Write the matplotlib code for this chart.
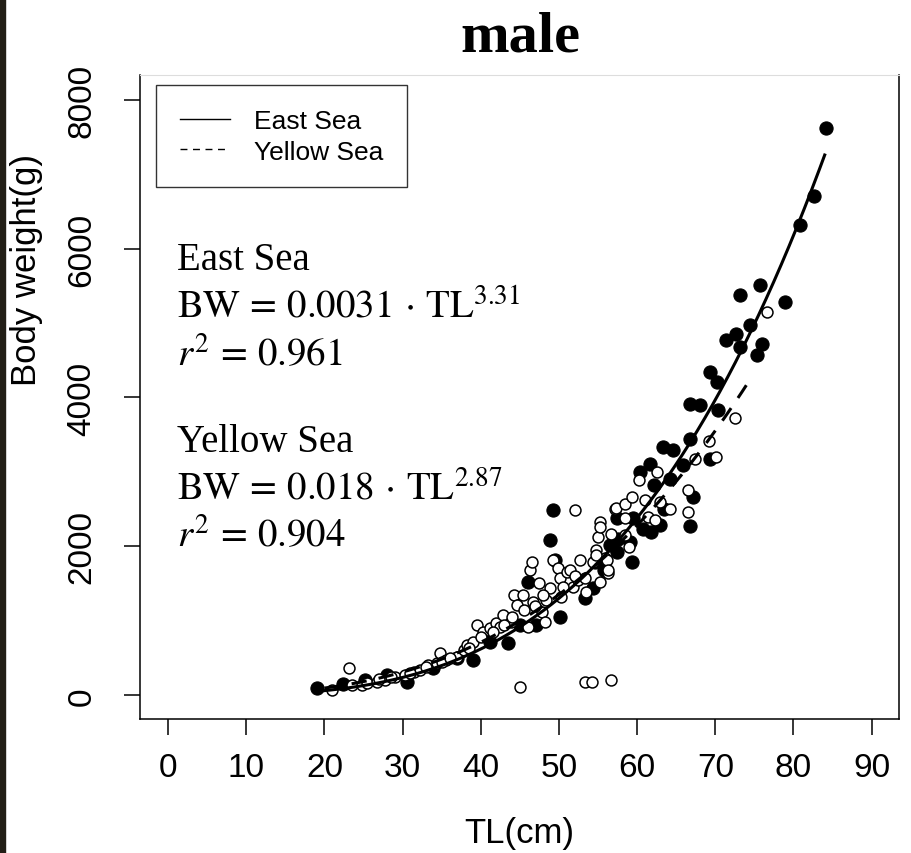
import matplotlib.pyplot as plt
from matplotlib.lines import Line2D
import numpy as np

plt.rcParams['font.family'] = ['Liberation Sans', 'DejaVu Sans']
plt.rcParams['mathtext.fontset'] = 'stix'

# East Sea (filled circles)
east_tl = [19.0, 22.4, 25.2, 28.0, 30.5, 33.9, 36.9, 39.0, 41.2, 43.5, 45.0, 46.1,
           47.1, 48.9, 49.3, 49.5, 50.1, 53.3, 54.4, 56.5, 57.4, 57.4,
           67.2, 59.5, 60.8, 62.9, 59.1, 57.6, 59.3, 54.6, 55.7, 61.8, 63.5, 66.8,
           84.2, 82.6, 80.8, 75.7, 73.1, 78.9, 74.4, 72.6, 71.4, 76.0, 73.2, 75.3,
           69.3, 70.2, 66.8, 68.0, 70.4, 66.8, 63.3, 64.6, 61.6, 60.4, 65.9, 69.3,
           62.1, 64.2]
east_bw = [103, 148, 206, 273, 183, 362, 497, 474, 720, 698, 944, 1525,
           944, 2084, 2486, 1816, 1055, 1301, 1436, 2017, 1928, 2375,
           2665, 2375, 2240, 2285, 2062, 2106, 1793, 1793, 1681, 2200, 2500, 2270,
           7615, 6712, 6310, 5505, 5370, 5281, 4968, 4856, 4767, 4722, 4677, 4566,
           4342, 4208, 3917, 3895, 3828, 3448, 3336, 3291, 3112, 3001, 3090, 3179,
           2822, 2911]

# Yellow Sea (open circles)
yellow_tl = [23.1, 21.0, 23.5, 24.8, 25.4, 26.7, 27.8, 29.0, 30.3, 31.4, 32.2, 33.3,
             34.4, 34.8, 35.6, 36.9, 37.8, 38.2, 39.0, 39.5, 40.3, 41.2, 42.0, 42.5,
             42.9, 43.9, 44.2, 44.6, 45.4, 46.1, 46.3, 46.5, 46.7, 47.4, 47.8, 48.2,
             48.4, 48.9, 49.3, 49.9, 50.1, 50.3, 51.0, 51.4, 51.8, 52.0, 52.5, 52.7,
             53.3, 53.5, 54.4, 54.8, 55.0, 55.2, 55.2, 55.9, 56.3, 56.7, 57.2,
             45.0, 53.3, 54.2, 56.7,
             57.3, 58.4, 59.4, 61.0, 62.9, 64.2, 66.5, 61.4, 58.4, 55.2, 58.4, 58.9,
             54.8, 56.1, 56.3, 62.3,
             76.6, 72.5, 69.2, 67.4, 70.1, 62.5, 60.3, 66.5,
             27.0, 28.5, 31.0, 33.0, 35.0, 36.0, 38.5, 40.0, 41.5, 43.0, 44.0, 45.5,
             47.0, 48.0, 50.5, 52.0]
yellow_bw = [371, 72, 139, 139, 161, 183, 206, 250, 273, 318, 340, 407,
             429, 564, 474, 519, 608, 675, 720, 944, 854, 899, 966, 921,
             1078, 988, 1346, 1212, 1346, 921, 1682, 1793, 1257, 1503, 1123, 988,
             1279, 1436, 1816, 1704, 1570, 1324, 1659, 1682, 1458, 2486, 1548, 1816,
             1570, 1391, 1793, 1950, 2129, 2330, 1525, 1838, 1637, 2173, 2509,
             116, 174, 174, 206,
             2518, 2576, 2665, 2621, 2598, 2509, 2464, 2397, 2375, 2263, 2151, 1994,
             1883, 1816, 1681, 2352,
             5147, 3725, 3412, 3179, 3202, 3000, 2889, 2755,
             215, 240, 300, 380, 450, 500, 640, 780, 850, 940, 1050, 1150,
             1200, 1350, 1450, 1600]

# fitted length-weight curves BW = a * TL^b
east_a, east_b, east_range = 0.0031, 3.31, (19, 84)
yellow_a, yellow_b, yellow_range = 0.018, 2.87, (20, 74.8)

fig = plt.figure(figsize=(9.12, 8.54), dpi=100)
ax = fig.add_axes([0.1535, 0.1569, 0.8322, 0.7541])

ax.scatter(east_tl, east_bw, s=90, c='black', edgecolors='black', linewidths=0.8, zorder=2)
ax.scatter(yellow_tl, yellow_bw, s=62, c='white', edgecolors='black', linewidths=1.1, zorder=3)

tl = np.linspace(*east_range, 200)
ax.plot(tl, east_a * tl ** east_b, color='black', lw=2.2, zorder=4)
tl = np.linspace(*yellow_range, 200)
ax.plot(tl, yellow_a * tl ** yellow_b, color='black', lw=2.2, ls=(0, (5, 4)), zorder=4)

ax.set_xlim(-3.6, 93.5)
ax.set_ylim(-318, 8331)
ax.set_xticks(range(0, 91, 10))
ax.set_yticks(range(0, 8001, 2000))
ax.tick_params(axis='both', direction='out', length=11.5, width=1.1, labelsize=24)
ax.tick_params(axis='x', pad=12)
ax.tick_params(axis='y', pad=19)
for lab in ax.get_yticklabels():
    lab.set_rotation(90)
    lab.set_va('center')
for side in ['left', 'bottom', 'right']:
    ax.spines[side].set_linewidth(1.1)
ax.spines['top'].set_color('#dddddd')
ax.spines['top'].set_linewidth(0.8)

ax.set_xlabel('TL(cm)', fontsize=25, labelpad=24)
ax.set_ylabel('Body weight(g)', fontsize=25)
ax.yaxis.set_label_coords(-0.128, 0.699)

fig.text(0.571, 1 - 52 / 854, 'male', ha='center', va='baseline',
         fontsize=42, fontweight='bold', family='Liberation Serif')

handles = [Line2D([], [], color='black', lw=1),
           Line2D([], [], color='black', lw=1, ls=(0, (5, 4)))]
leg = ax.legend(handles, ['East Sea', 'Yellow Sea'], loc='upper left',
                bbox_to_anchor=(0.021, 0.984), fontsize=19, frameon=True,
                fancybox=False, edgecolor='black', handlelength=1.9,
                borderpad=0.9, labelspacing=0.25, handletextpad=0.9, borderaxespad=0)
leg.get_frame().set_linewidth(1.0)

tx = 0.0487
kw = dict(transform=ax.transAxes, fontsize=28, va='baseline')
ax.text(tx, 0.699, 'East Sea', family='Liberation Serif', **kw)
ax.text(tx, 0.624, r'$\mathrm{BW}\,=\,0.0031\,\cdot\,\mathrm{TL}^{3.31}$', **kw)
ax.text(tx, 0.550, r'$r^2\,=\,0.961$', **kw)
ax.text(tx, 0.416, 'Yellow Sea', family='Liberation Serif', **kw)
ax.text(tx, 0.343, r'$\mathrm{BW}\,=\,0.018\,\cdot\,\mathrm{TL}^{2.87}$', **kw)
ax.text(tx, 0.269, r'$r^2\,=\,0.904$', **kw)

# dark strip on the left edge of the original image
fig.patches.append(plt.Rectangle((0, 0), 5 / 912, 1, transform=fig.transFigure,
                                 color='#221e16', zorder=10))

fig.savefig('out.png', dpi=100)
